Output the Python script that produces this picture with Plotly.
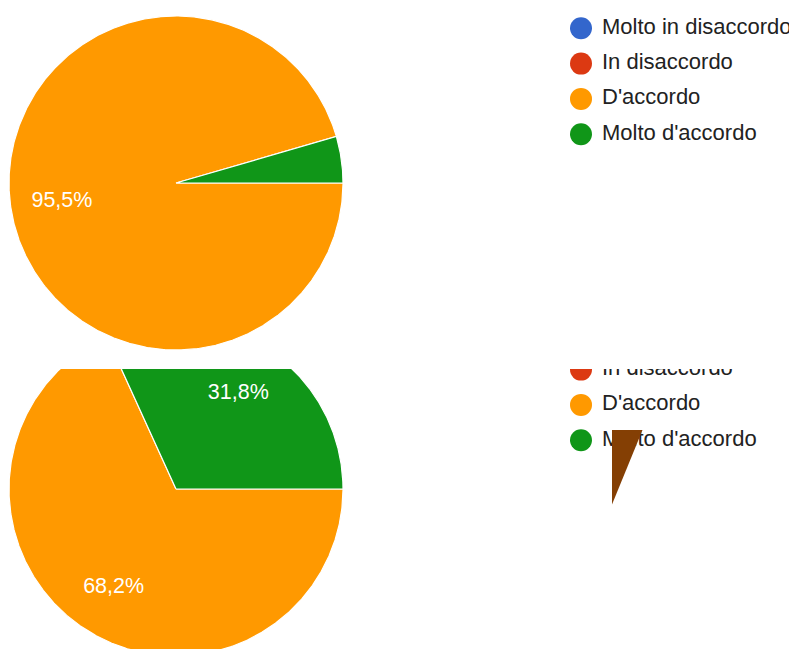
import numpy as np
import plotly.graph_objects as go

# ---- data ----
categories = ["Molto in disaccordo", "In disaccordo", "D'accordo", "Molto d'accordo"]
values_q1 = [0, 0, 95.5, 4.5]
values_q2 = [0, 0, 68.2, 31.8]
colors = ["#3366cc", "#dc3912", "#ff9900", "#109618"]

# ---- layout constants (page pixels) ----
W, H = 797, 649
OFF = 8               # default page margin around the plot div
CLIP = 369            # the second chart is cut off above this line
R = 167
CX = 176
CENTERS_Y = [183, 489]
LEG_X, TEXT_X = 581, 602
LEG_Y0 = [28.3, 334.3]
LEG_DY = 35.3
LABEL_R = 0.69
LABEL_DY = 2
FONT = "Liberation Sans, Arial, sans-serif"


def pct(v):
    return f"{v:.1f}".replace(".", ",") + "%"


fig = go.Figure()
charts = [(values_q1, CENTERS_Y[0], LEG_Y0[0], "x", "y"),
          (values_q2, CENTERS_Y[1], LEG_Y0[1], "x2", "y2")]

for vals, cy, ly0, xa, ya in charts:
    total = float(sum(vals))
    cum = 0.0
    lab_x, lab_y, lab_t = [], [], []
    for cat, v, col in zip(categories, vals, colors):
        if v <= 0:
            continue
        a0 = 2 * np.pi * cum / total
        a1 = 2 * np.pi * (cum + v) / total
        th = np.linspace(a0, a1, max(3, int(900 * v / total) + 3))
        xs = np.concatenate([[CX], CX + R * np.cos(th), [CX]])
        ys = np.concatenate([[cy], cy + R * np.sin(th), [cy]])
        fig.add_trace(go.Scatter(x=xs, y=ys, mode="lines", fill="toself",
                                 fillcolor=col, line=dict(color="white", width=1.2),
                                 hoverinfo="skip", xaxis=xa, yaxis=ya))
        if v / total >= 0.05:
            am = (a0 + a1) / 2
            lab_x.append(CX + LABEL_R * R * np.cos(am))
            lab_y.append(cy + LABEL_R * R * np.sin(am) + LABEL_DY)
            lab_t.append(pct(v))
        cum += v
    fig.add_trace(go.Scatter(x=lab_x, y=lab_y, text=lab_t, mode="text",
                             textposition="middle center",
                             textfont=dict(family=FONT, size=21.5, color="white"),
                             hoverinfo="skip", xaxis=xa, yaxis=ya))
    # legend
    ly = [ly0 + i * LEG_DY for i in range(len(categories))]
    fig.add_trace(go.Scatter(x=[LEG_X] * len(categories), y=ly, mode="markers",
                             marker=dict(size=22, color=colors, line=dict(width=0)),
                             hoverinfo="skip", xaxis=xa, yaxis=ya))
    fig.add_trace(go.Scatter(x=[TEXT_X] * len(categories), y=ly, text=categories,
                             mode="text", textposition="middle right",
                             textfont=dict(family=FONT, size=22, color="#222222"),
                             hoverinfo="skip", xaxis=xa, yaxis=ya))

# decorative brown triangle
fig.add_shape(type="path", xref="x2", yref="y2",
              path="M 612,430 L 642.5,430 L 612,504.5 Z",
              fillcolor="#843f04", line=dict(width=0), layer="above")

FW, FH = W - OFF, H - OFF   # figure fits inside the window after the page margin
split = 1 - (CLIP - OFF) / FH
ax = dict(visible=False, showgrid=False, zeroline=False, fixedrange=True)
fig.update_layout(
    width=FW, height=FH, margin=dict(l=0, r=0, t=0, b=0),
    paper_bgcolor="white", plot_bgcolor="white", showlegend=False,
    xaxis=dict(ax, domain=[0, 1], range=[OFF, W], anchor="y"),
    yaxis=dict(ax, domain=[split, 1], range=[CLIP, OFF], anchor="x"),
    xaxis2=dict(ax, domain=[0, 1], range=[OFF, W], anchor="y2"),
    yaxis2=dict(ax, domain=[0, split], range=[H, CLIP], anchor="x2"),
)

fig.write_html("out.html")
